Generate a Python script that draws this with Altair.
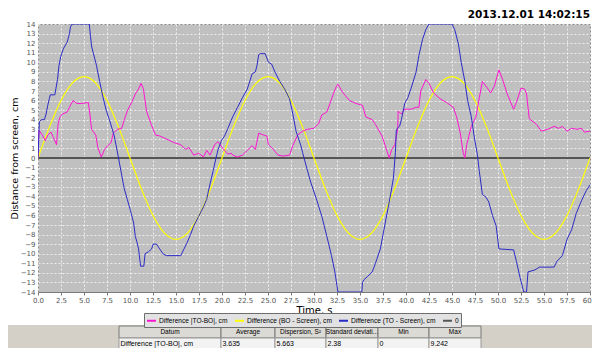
import altair as alt
import pandas as pd

# ---------------- data ----------------
title_text = "2013.12.01 14:02:15"
series_names = ["Difference |TO-BO|, cm", "Difference (BO - Screen), cm",
                "Difference (TO - Screen), cm", "0"]
series_colors = ["#ff14d2", "#ffff00", "#2b2bc8", "#555555"]

mag_t = [0, 0.1, 0.18, 0.53, 0.78, 1.06, 1.41, 1.69, 2.01, 2.19, 2.4, 2.65, 3.17, 3.42, 3.8,
         4.23, 4.76, 5.47, 5.64, 5.82, 6.28, 6.5, 6.88, 7.23, 7.58, 7.94, 8.18, 8.64, 9.1,
         9.35, 9.7, 10.23, 10.58, 10.93, 11.2, 11.46, 11.8, 12.27, 12.77, 13.23, 13.93, 14.8,
         15.5, 16.05, 16.4, 16.93, 17.46, 17.99, 18.34, 18.7, 19.2, 19.58, 20.1, 20.46, 20.64,
         21.0, 21.16, 21.69, 22.22, 22.75, 23.28, 23.63, 23.99, 24.52, 24.87, 25.05, 25.57,
         26.1, 26.63, 27.34, 27.7, 28.22, 28.75, 29.28, 29.98, 30.5, 30.85, 31.39, 31.74, 32.1,
         32.45, 32.6, 33.16, 33.86, 34.57, 35.27, 35.63, 36.33, 36.68, 37.39, 37.74, 38.17,
         38.45, 38.8, 39.1, 39.15, 39.5, 39.86, 40.56, 41.1, 41.4, 41.6, 42.15, 42.5, 43.0,
         43.7, 44.4, 45.15, 45.5, 45.9, 46.2, 46.4, 46.6, 47.1, 47.6, 47.97, 48.3, 48.85, 49.2,
         49.6, 50.1, 50.5, 51.0, 51.7, 52.0, 52.5, 52.9, 53.1, 53.4, 54.2, 54.7, 55.4, 56.1,
         56.6, 57.0, 57.5, 58.0, 58.6, 59.1, 59.4, 60.0]
mag_v = [0, 2.9, 2.8, 2.3, 1.8, 2.4, 2.7, 2.1, 1.4, 3.6, 4.3, 4.6, 4.8, 5.3, 6.0,
         5.7, 5.7, 5.8, 4.6, 3.0, 2.4, 1.1, 0.1, 0.9, 1.3, 1.6, 2.6, 3.0, 3.1,
         3.9, 4.9, 5.9, 6.7, 7.2, 7.8, 7.2, 4.9, 3.6, 2.4, 2.3, 2.0, 1.6,
         1.4, 0.9, 1.1, 0.3, 0.5, 0.1, 0.8, 0.3, 1.4, 1.7, 1.0, 0.6, 0.4,
         0.5, 0.3, 0.1, 0.3, 0.8, 1.3, 0.9, 2.6, 2.4, 2.3, 1.4, 0.9,
         0.3, 0.2, 0.3, 1.3, 2.4, 2.8, 3.0, 3.1, 3.6, 4.5, 4.8, 5.7, 6.7,
         7.5, 7.7, 6.8, 6.0, 5.7, 5.5, 4.3, 4.0, 3.5, 2.3, 1.3, 0.0,
         0.9, 1.4, 3.1, 4.9, 4.6, 5.1, 5.1, 5.3, 5.3, 7.0, 8.2, 7.8, 6.8,
         6.2, 5.8, 5.3, 4.3, 2.6, 0.6, 0.0, 1.4, 3.3, 4.3, 6.3, 8.0, 7.3, 6.8,
         7.5, 9.2, 8.2, 6.7, 5.1, 5.8, 7.3, 7.2, 6.7, 4.1, 3.5, 2.8, 3.0, 3.3,
         3.1, 3.3, 2.8, 3.1, 3.0, 3.1, 2.7, 2.8]

yel_t = [0, 1.25, 2.5, 3.75, 5, 6.25, 7.5, 8.75, 10, 11.25, 12.5, 13.75, 15, 16.25, 17.5, 18.75,
         20, 21.25, 22.5, 23.75, 25, 26.25, 27.5, 28.75, 30, 31.25, 32.5, 33.75, 35, 36.25,
         37.5, 38.75, 40, 41.25, 42.5, 43.75, 45, 46.25, 47.5, 48.75, 50, 51.25, 52.5, 53.75,
         55, 56.25, 57.5, 58.75, 60]
yel_v = [0, 3.25, 6.0, 7.85, 8.5, 7.85, 6.0, 3.25, 0, -3.25, -6.0, -7.85, -8.5, -7.85, -6.0, -3.25,
         0, 3.25, 6.0, 7.85, 8.5, 7.85, 6.0, 3.25, 0, -3.25, -6.0, -7.85, -8.5, -7.85,
         -6.0, -3.25, 0, 3.25, 6.0, 7.85, 8.5, 7.85, 6.0, 3.25, 0, -3.25, -6.0, -7.85,
         -8.5, -7.85, -6.0, -3.25, 0]

blue_t = [0, 0.15, 0.35, 0.7, 0.88, 1.06, 1.23, 1.34, 1.83, 1.94, 2.12, 2.29, 2.47, 2.75, 3.17,
          3.42, 3.53, 3.7, 5.57, 5.71, 5.82, 6.0, 6.35, 6.7, 7.05, 7.41, 7.76, 8.29, 8.75, 9.1,
          9.35, 9.7, 10.05, 10.4, 10.58, 10.76, 10.93, 11.15, 11.5, 11.64, 12.0, 12.35, 12.52,
          12.87, 13.23, 13.58, 13.93, 15.52, 15.87, 16.23, 16.58, 16.93, 17.46, 17.99, 18.34,
          18.7, 19.05, 19.3, 19.58, 19.93, 20.28, 20.64, 21.16, 21.69, 22.22, 22.75, 23.28,
          23.63, 23.81, 23.99, 24.16, 24.69, 25.05, 25.4, 25.75, 26.28, 26.81, 27.34, 27.7,
          28.05, 28.57, 28.75, 29.0, 29.6, 30.3, 30.85, 31.4, 31.9, 32.27, 32.6, 35.2, 35.27,
          35.45, 35.8, 36.33, 36.68, 37.21, 37.74, 38.27, 38.63, 38.85, 38.95, 39.3, 39.5,
          39.86, 40.2, 40.56, 41.1, 41.4, 41.8, 42.15, 42.5, 45.0, 45.3, 45.7, 46.0, 46.4,
          46.7, 47.1, 47.4, 47.75, 47.97, 48.3, 48.7, 49.0, 49.4, 49.8, 50.1, 51.7, 52.0, 52.4,
          52.8, 53.1, 53.26, 54.0, 54.5, 56.1, 56.4, 57.0, 57.5, 58.0, 58.5, 59.1, 59.6, 60.0]
blue_v = [0, 3.8, 4.0, 4.0, 4.6, 5.5, 6.2, 6.6, 6.6, 7.2, 8.2, 9.7, 10.6, 11.4, 12.1,
          13.0, 13.7, 14, 14, 12.7, 11.7, 11.0, 9.7, 8.0, 6.4, 5.0, 4.0, 2.3, 0.0, -1.8,
          -3.1, -4.3, -5.5, -6.8, -8.2, -8.8, -9.5, -11.3, -11.3, -10.0, -9.8, -9.5, -9.0,
          -9.0, -9.5, -10.0, -10.2, -10.2, -9.5, -8.8, -8.0, -7.1, -6.1, -5.1, -4.3,
          -2.7, -1.3, -0.2, 0.9, 1.8, 2.3, 3.1, 4.3, 5.3, 6.3, 7.2, 8.8,
          9.0, 9.7, 10.8, 10.9, 10.9, 10.0, 9.8, 9.0, 8.0, 7.2, 6.2, 4.6,
          2.8, 1.3, 0.6, -0.3, -2.4, -4.4, -6.1, -8.2, -10.2, -11.9, -14, -14, -13.0,
          -12.7, -12.4, -11.9, -11.0, -9.5, -6.8, -4.1, -2.1, 0.6, 3.0, 3.3, 4.0,
          5.7, 6.3, 7.3, 9.0, 10.7, 12.4, 13.4, 14, 14, 13.4, 11.9, 10.0, 8.0,
          6.0, 4.3, 2.3, 0.4, -1.4, -3.8, -4.1, -4.6, -6.0, -7.1, -9.5, -9.6, -10.8, -12.5,
          -14, -14, -11.9, -11.7, -11.4, -11.4, -10.8, -10.2, -8.5, -7.5, -5.8, -4.4, -3.4, -2.8]

zero_t = [0, 60]
zero_v = [0, 0]

x_ticks = [0, 2.5, 5, 7.5, 10, 12.5, 15, 17.5, 20, 22.5, 25, 27.5, 30, 32.5, 35, 37.5, 40,
           42.5, 45, 47.5, 50, 52.5, 55, 57.5, 60]
y_ticks = list(range(-14, 15))

table_headers = ["Datum", "Average", "Dispersion, S\u00b2", "Standard deviati...", "Min", "Max"]
table_row = ["Difference |TO-BO|, cm", "3.635", "5.663", "2.38", "0", "9.242"]

# ---------------- layout helpers (not data) ----------------
col_widths = [102, 54, 51, 52, 51, 52]
W, H = 552, 268
PAD_L, PAD_T = 30, 16
TABLE_LEFT = 119 - 8 - PAD_L      # table left edge relative to plot origin
HEAD_TOP = 326 - 8 - PAD_T        # header top relative to plot origin


def frame(name, ts, vs):
    return pd.DataFrame({"series": name, "t": ts, "v": vs})


df_mag = frame(series_names[0], mag_t, mag_v)
df_yel = frame(series_names[1], yel_t, yel_v)
df_blue = frame(series_names[2], blue_t, blue_v)
df_zero = frame(series_names[3], zero_t, zero_v)

xscale = alt.Scale(domain=[0, 60], nice=False)
yscale = alt.Scale(domain=[-14, 14], nice=False)
cscale = alt.Scale(domain=series_names, range=series_colors)

legend = alt.Legend(
    title=None, orient="none", legendX=144 - 8 - PAD_L, legendY=HEAD_TOP - 13,
    direction="horizontal",
    columns=4, symbolType="stroke", symbolSize=81, symbolStrokeWidth=2,
    labelFontSize=6.6, labelFont="Liberation Sans", labelColor="#000000",
    fillColor="#e2e2e2", strokeColor="#6e6e6e", padding=2, columnPadding=3,
    labelOffset=2, symbolOpacity=1,
)

xaxis = alt.Axis(values=x_ticks, format=".1f", title="Time, s", tickSize=3,
                 labelPadding=1, titlePadding=2, labelOverlap=False, labelFlush=False)
yaxis = alt.Axis(values=y_ticks, title="Distance from screen, cm", ticks=False,
                 labelPadding=3, titlePadding=1, labelOverlap=False, domain=False,
                 titleFontSize=9.5)

enc_x = alt.X("t:Q", scale=xscale, axis=xaxis)
enc_y = alt.Y("v:Q", scale=yscale, axis=yaxis)
enc_c = alt.Color("series:N", scale=cscale, legend=legend)

zero_layer = alt.Chart(df_zero).mark_line(strokeWidth=2, clip=True).encode(
    x=enc_x, y=enc_y, color=enc_c)
yel_layer = alt.Chart(df_yel).mark_line(strokeWidth=1.2, interpolate="monotone", clip=True).encode(
    x=enc_x, y=enc_y, color=enc_c)
mag_layer = alt.Chart(df_mag).mark_line(strokeWidth=1, clip=True).encode(
    x=enc_x, y=enc_y, color=enc_c)
blue_layer = alt.Chart(df_blue).mark_line(strokeWidth=1, clip=True).encode(
    x=enc_x, y=enc_y, color=enc_c)

main = alt.layer(zero_layer, yel_layer, mag_layer, blue_layer)

# ---------------- table ----------------
edges = [0]
for w in col_widths:
    edges.append(edges[-1] + w)
rows = []
for i, (h, r) in enumerate(zip(table_headers, table_row)):
    rows.append({"x0": edges[i], "x1": edges[i + 1], "xm": (edges[i] + edges[i + 1]) / 2,
                 "xl": edges[i] + 1.5, "r0": 0, "r1": 1, "rm": 0.5, "text": h, "kind": "head"})
    rows.append({"x0": edges[i], "x1": edges[i + 1], "xm": (edges[i] + edges[i + 1]) / 2,
                 "xl": edges[i] + 1.5, "r0": 1, "r1": 2, "rm": 1.5, "text": r, "kind": "row"})
tdf = pd.DataFrame(rows)

tx = alt.Scale(domain=[0, edges[-1]], range=[TABLE_LEFT, TABLE_LEFT + edges[-1]], nice=False, zero=False)
ty = alt.Scale(domain=[0, 2], range=[HEAD_TOP, HEAD_TOP + 24], nice=False, zero=False)

bg = alt.Chart(pd.DataFrame({"a": [0]})).mark_rect(color="#d4d0c8").encode(
    x=alt.value(-PAD_L - 2), x2=alt.value(W + 12), y=alt.value(HEAD_TOP - 1), y2=alt.value(HEAD_TOP + 40))
head_rect = alt.Chart(tdf).transform_filter(alt.datum.kind == "head").mark_rect(
    fill="#dcdad5", stroke="#7a7a7a", strokeWidth=1).encode(
    x=alt.X("x0:Q", scale=tx, axis=None), x2="x1:Q",
    y=alt.Y("r0:Q", scale=ty, axis=None), y2="r1:Q")
row_rect = alt.Chart(tdf).transform_filter(alt.datum.kind == "row").mark_rect(
    fill="#f3f3f3", stroke="#9a9a9a", strokeWidth=1).encode(
    x=alt.X("x0:Q", scale=tx, axis=None), x2="x1:Q",
    y=alt.Y("r0:Q", scale=ty, axis=None), y2="r1:Q")
head_text = alt.Chart(tdf).transform_filter(alt.datum.kind == "head").mark_text(
    align="center", baseline="middle", fontSize=6.5, font="Liberation Sans", color="#000").encode(
    x=alt.X("xm:Q", scale=tx, axis=None), y=alt.Y("rm:Q", scale=ty, axis=None), text="text:N")
row_text = alt.Chart(tdf).transform_filter(alt.datum.kind == "row").mark_text(
    align="left", baseline="middle", fontSize=7, font="Liberation Sans", color="#000").encode(
    x=alt.X("xl:Q", scale=tx, axis=None), y=alt.Y("rm:Q", scale=ty, axis=None), text="text:N")

table = alt.layer(bg, head_rect, row_rect, head_text, row_text)

chart = alt.layer(main, table).resolve_scale(x="independent", y="independent").properties(
    width=W, height=H,
    autosize=alt.AutoSizeParams(type="none"),
    padding={"left": PAD_L, "top": PAD_T, "right": 2, "bottom": 340 - PAD_T - H},
    title=alt.Title(title_text, anchor="end", frame="group", fontSize=10.5, font="DejaVu Sans",
                    fontWeight="bold", offset=0, color="#000000"),
    background="#ffffff",
).configure_view(
    fill="#c0c0c0", stroke="#8c8c8c"
).configure_axis(
    labelFont="DejaVu Sans", labelFontSize=7, labelColor="#555555",
    titleFont="DejaVu Sans", titleFontSize=10, titleFontWeight="normal", titleColor="#000000",
    grid=True, gridColor="#ffffff", gridDash=[2, 2], gridOpacity=0.75, gridWidth=1,
    domainColor="#7a7a7a", tickColor="#7a7a7a",
)

chart.save("out.html", embed_options={"renderer": "svg", "actions": False})
